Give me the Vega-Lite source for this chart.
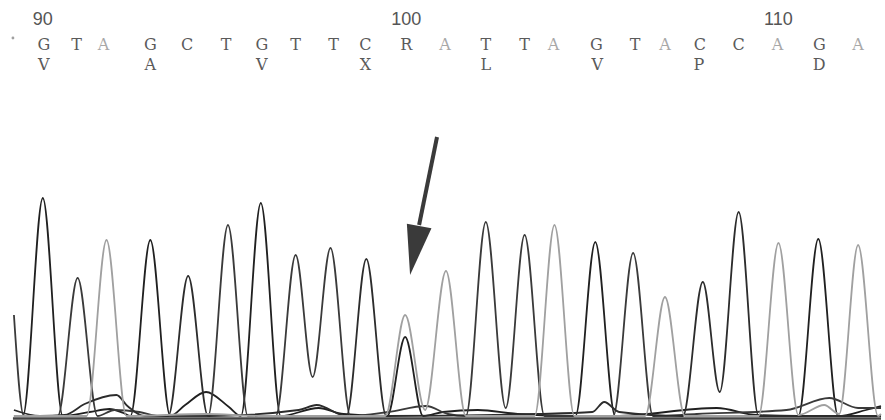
{
  "$schema": "https://vega.github.io/schema/vega-lite/v6.json",
  "width": 885,
  "height": 420,
  "autosize": {"type": "fit", "contains": "padding"},
  "padding": 0,
  "background": "white",
  "config": {"view": {"stroke": null}},
  "datasets": {
    "traces": [
      {"base": "G", "x": 14, "y": 4}, {"base": "G", "x": 23, "y": 4}, {"base": "G", "x": 43, "y": 222}, {"base": "G", "x": 63, "y": 4},
      {"base": "G", "x": 90, "y": 8}, {"base": "G", "x": 110, "y": 11}, {"base": "G", "x": 124, "y": 7}, {"base": "G", "x": 131, "y": 4},
      {"base": "G", "x": 151, "y": 180}, {"base": "G", "x": 171, "y": 4}, {"base": "G", "x": 186, "y": 15}, {"base": "G", "x": 207, "y": 28},
      {"base": "G", "x": 230, "y": 13}, {"base": "G", "x": 242, "y": 4}, {"base": "G", "x": 262, "y": 217}, {"base": "G", "x": 282, "y": 4},
      {"base": "G", "x": 320, "y": 12}, {"base": "G", "x": 345, "y": 6}, {"base": "G", "x": 389, "y": 4}, {"base": "G", "x": 407, "y": 83},
      {"base": "G", "x": 425, "y": 4}, {"base": "G", "x": 445, "y": 8}, {"base": "G", "x": 480, "y": 10}, {"base": "G", "x": 520, "y": 6},
      {"base": "G", "x": 578, "y": 4}, {"base": "G", "x": 598, "y": 178}, {"base": "G", "x": 618, "y": 4}, {"base": "G", "x": 720, "y": 12},
      {"base": "G", "x": 760, "y": 5}, {"base": "G", "x": 802, "y": 4}, {"base": "G", "x": 822, "y": 181}, {"base": "G", "x": 842, "y": 4},
      {"base": "G", "x": 870, "y": 10}, {"base": "G", "x": 885, "y": 14},

      {"base": "T", "x": 14, "y": 105}, {"base": "T", "x": 24, "y": 4}, {"base": "T", "x": 58, "y": 4}, {"base": "T", "x": 78, "y": 142},
      {"base": "T", "x": 98, "y": 4}, {"base": "T", "x": 115, "y": 10}, {"base": "T", "x": 140, "y": 8}, {"base": "T", "x": 160, "y": 4},
      {"base": "T", "x": 209, "y": 4}, {"base": "T", "x": 229, "y": 195}, {"base": "T", "x": 249, "y": 4}, {"base": "T", "x": 277, "y": 4},
      {"base": "T", "x": 297, "y": 165}, {"base": "T", "x": 314, "y": 43}, {"base": "T", "x": 332, "y": 172}, {"base": "T", "x": 352, "y": 4},
      {"base": "T", "x": 390, "y": 8}, {"base": "T", "x": 428, "y": 14}, {"base": "T", "x": 450, "y": 6}, {"base": "T", "x": 468, "y": 4},
      {"base": "T", "x": 488, "y": 198}, {"base": "T", "x": 508, "y": 12}, {"base": "T", "x": 527, "y": 185}, {"base": "T", "x": 547, "y": 4},
      {"base": "T", "x": 616, "y": 4}, {"base": "T", "x": 636, "y": 167}, {"base": "T", "x": 656, "y": 4}, {"base": "T", "x": 700, "y": 6},
      {"base": "T", "x": 790, "y": 10}, {"base": "T", "x": 833, "y": 22}, {"base": "T", "x": 862, "y": 12}, {"base": "T", "x": 885, "y": 12},

      {"base": "C", "x": 14, "y": 10}, {"base": "C", "x": 40, "y": 4}, {"base": "C", "x": 65, "y": 5}, {"base": "C", "x": 85, "y": 16},
      {"base": "C", "x": 117, "y": 25}, {"base": "C", "x": 128, "y": 14}, {"base": "C", "x": 145, "y": 4}, {"base": "C", "x": 169, "y": 4},
      {"base": "C", "x": 189, "y": 144}, {"base": "C", "x": 209, "y": 4}, {"base": "C", "x": 300, "y": 10}, {"base": "C", "x": 318, "y": 15},
      {"base": "C", "x": 348, "y": 4}, {"base": "C", "x": 368, "y": 161}, {"base": "C", "x": 388, "y": 4}, {"base": "C", "x": 540, "y": 6},
      {"base": "C", "x": 595, "y": 8}, {"base": "C", "x": 607, "y": 18}, {"base": "C", "x": 622, "y": 8}, {"base": "C", "x": 686, "y": 4},
      {"base": "C", "x": 706, "y": 138}, {"base": "C", "x": 723, "y": 28}, {"base": "C", "x": 742, "y": 208}, {"base": "C", "x": 762, "y": 4},
      {"base": "C", "x": 885, "y": 4},

      {"base": "A", "x": 14, "y": 4}, {"base": "A", "x": 87, "y": 4}, {"base": "A", "x": 107, "y": 180}, {"base": "A", "x": 127, "y": 4},
      {"base": "A", "x": 207, "y": 6}, {"base": "A", "x": 260, "y": 4}, {"base": "A", "x": 387, "y": 4}, {"base": "A", "x": 407, "y": 105},
      {"base": "A", "x": 427, "y": 10}, {"base": "A", "x": 448, "y": 149}, {"base": "A", "x": 468, "y": 4}, {"base": "A", "x": 537, "y": 4},
      {"base": "A", "x": 557, "y": 195}, {"base": "A", "x": 577, "y": 4}, {"base": "A", "x": 648, "y": 4}, {"base": "A", "x": 668, "y": 123},
      {"base": "A", "x": 688, "y": 4}, {"base": "A", "x": 762, "y": 4}, {"base": "A", "x": 782, "y": 177}, {"base": "A", "x": 802, "y": 5},
      {"base": "A", "x": 828, "y": 15}, {"base": "A", "x": 843, "y": 6}, {"base": "A", "x": 862, "y": 175}, {"base": "A", "x": 882, "y": 4},
      {"base": "A", "x": 885, "y": 6}
    ],
    "bases": [
      {"letter": "G", "x": 44}, {"letter": "T", "x": 77}, {"letter": "A", "x": 104}, {"letter": "G", "x": 151},
      {"letter": "C", "x": 188}, {"letter": "T", "x": 227}, {"letter": "G", "x": 263}, {"letter": "T", "x": 297},
      {"letter": "T", "x": 335}, {"letter": "C", "x": 367}, {"letter": "R", "x": 408}, {"letter": "A", "x": 447},
      {"letter": "T", "x": 488}, {"letter": "T", "x": 527}, {"letter": "A", "x": 556}, {"letter": "G", "x": 599},
      {"letter": "T", "x": 638}, {"letter": "A", "x": 668}, {"letter": "C", "x": 703}, {"letter": "C", "x": 742},
      {"letter": "A", "x": 781}, {"letter": "G", "x": 823}, {"letter": "A", "x": 862}
    ],
    "numbers": [
      {"label": "90", "x": 43}, {"label": "100", "x": 408}, {"label": "110", "x": 782}
    ],
    "aa": [
      {"letter": "V", "x": 44}, {"letter": "A", "x": 151}, {"letter": "V", "x": 263}, {"letter": "X", "x": 367},
      {"letter": "L", "x": 488}, {"letter": "V", "x": 600}, {"letter": "P", "x": 702}, {"letter": "D", "x": 823}
    ]
  },
  "layer": [
    {
      "data": {"values": [{"x": 13, "x2": 885, "y": 1.5}]},
      "mark": {"type": "rule", "color": "#444444", "strokeWidth": 2.5},
      "encoding": {
        "x": {"field": "x", "type": "quantitative", "scale": {"domain": [0, 885], "nice": false, "zero": false}, "axis": null},
        "x2": {"field": "x2"},
        "y": {"field": "y", "type": "quantitative", "scale": {"domain": [0, 420], "nice": false, "zero": false}, "axis": null}
      }
    },
    {
      "data": {"name": "traces"},
      "mark": {"type": "line", "interpolate": "monotone", "strokeWidth": 1.8},
      "encoding": {
        "x": {"field": "x", "type": "quantitative", "scale": {"domain": [0, 885], "nice": false, "zero": false}, "axis": null},
        "y": {"field": "y", "type": "quantitative", "scale": {"domain": [0, 420], "nice": false, "zero": false}, "axis": null},
        "color": {"field": "base", "type": "nominal", "scale": {"domain": ["G", "T", "C", "A"], "range": ["#202020", "#3a3a3a", "#2c2c2c", "#a0a0a0"]}, "legend": null},
        "order": {"field": "x", "type": "quantitative"}
      }
    },
    {
      "data": {"name": "bases"},
      "mark": {"type": "text", "font": "DejaVu Serif", "fontSize": 16, "baseline": "middle", "align": "center"},
      "encoding": {
        "x": {"field": "x", "type": "quantitative"},
        "y": {"datum": 375, "type": "quantitative"},
        "text": {"field": "letter"},
        "color": {"condition": {"test": "datum.letter === 'A'", "value": "#a8a8a8"}, "value": "#5a5a5a"}
      }
    },
    {
      "data": {"name": "aa"},
      "mark": {"type": "text", "font": "DejaVu Serif", "fontSize": 16, "baseline": "middle", "align": "center", "color": "#5a5a5a"},
      "encoding": {
        "x": {"field": "x", "type": "quantitative"},
        "y": {"datum": 355, "type": "quantitative"},
        "text": {"field": "letter"}
      }
    },
    {
      "data": {"name": "numbers"},
      "mark": {"type": "text", "font": "Liberation Sans", "fontSize": 18, "baseline": "middle", "align": "center", "color": "#555555"},
      "encoding": {
        "x": {"field": "x", "type": "quantitative"},
        "y": {"datum": 400, "type": "quantitative"},
        "text": {"field": "label"}
      }
    },
    {
      "data": {"values": [{"x": 13, "y": 382}]},
      "mark": {"type": "point", "filled": true, "size": 8, "color": "#777777"},
      "encoding": {
        "x": {"field": "x", "type": "quantitative"},
        "y": {"field": "y", "type": "quantitative"}
      }
    },
    {
      "data": {"values": [{"x": 439, "y": 283, "x2": 421, "y2": 195}]},
      "mark": {"type": "rule", "color": "#3a3a3a", "strokeWidth": 4},
      "encoding": {
        "x": {"field": "x", "type": "quantitative"},
        "y": {"field": "y", "type": "quantitative"},
        "x2": {"field": "x2"},
        "y2": {"field": "y2"}
      }
    },
    {
      "data": {"values": [{"x": 416.5, "y": 169.5}]},
      "mark": {"type": "point", "shape": "M0,1L-0.5,-1L0.5,-1Z", "size": 2500, "angle": 10.5, "filled": true, "color": "#3a3a3a", "strokeWidth": 0, "opacity": 1},
      "encoding": {
        "x": {"field": "x", "type": "quantitative"},
        "y": {"field": "y", "type": "quantitative"}
      }
    }
  ]
}
